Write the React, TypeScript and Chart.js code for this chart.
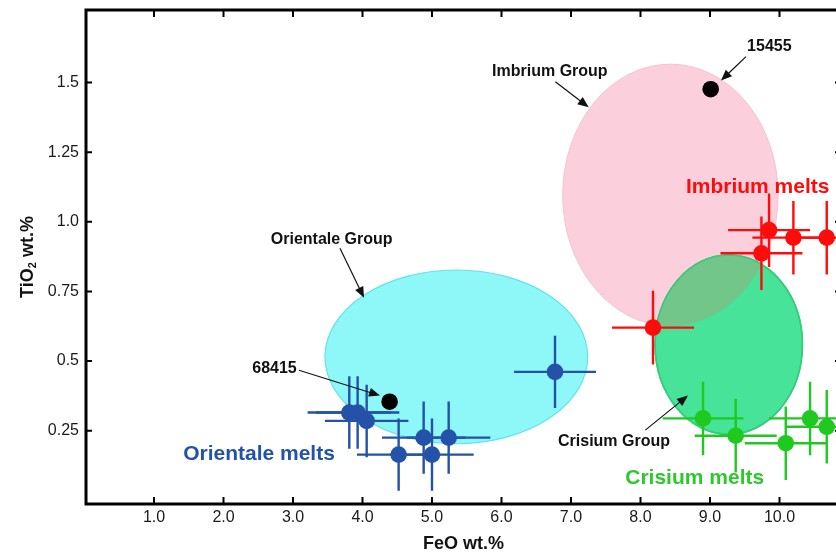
import React, { useEffect, useRef } from "react";
import { Chart, registerables } from "chart.js";

Chart.register(...registerables);

// ---------- data ----------
const xTicks = [1, 2, 3, 4, 5, 6, 7, 8, 9, 10];
const xTickLabels = ["1.0", "2.0", "3.0", "4.0", "5.0", "6.0", "7.0", "8.0", "9.0", "10.0"];
const yTicks = [0.25, 0.5, 0.75, 1.0, 1.25, 1.5];
const yTickLabels = ["0.25", "0.5", "0.75", "1.0", "1.25", "1.5"];

const orientaleFeO = [3.81, 3.93, 4.06, 4.52, 4.88, 5.0, 5.24, 6.77];
const orientaleTiO2 = [0.315, 0.315, 0.285, 0.164, 0.225, 0.164, 0.225, 0.461];
const orientaleFeOErr = [0.6, 0.6, 0.6, 0.6, 0.6, 0.6, 0.6, 0.59];
const orientaleTiO2Err = [0.13, 0.13, 0.13, 0.13, 0.13, 0.13, 0.13, 0.13];

const imbriumFeO = [9.85, 10.2, 9.74, 10.68, 8.18];
const imbriumTiO2 = [0.97, 0.943, 0.887, 0.943, 0.62];
const imbriumFeOErr = [0.59, 0.59, 0.59, 0.59, 0.59];
const imbriumTiO2Err = [0.132, 0.132, 0.132, 0.132, 0.132];

const crisiumFeO = [8.9, 9.37, 10.09, 10.44, 10.68];
const crisiumTiO2 = [0.294, 0.232, 0.205, 0.294, 0.264];
const crisiumFeOErr = [0.58, 0.59, 0.59, 0.59, 0.59];
const crisiumTiO2Err = [0.132, 0.132, 0.132, 0.132, 0.132];

const sampleNames = ["15455", "68415"];
const sampleFeO = [9.01, 4.39];
const sampleTiO2 = [1.476, 0.354];

const groupNames = ["Imbrium Group", "Orientale Group", "Crisium Group"];
const groupFeOCenter = [8.43, 5.35, 9.27];
const groupFeORadius = [1.55, 1.89, 1.06];
const groupTiO2Center = [1.096, 0.515, 0.559];
const groupTiO2Radius = [0.47, 0.312, 0.322];

const meltNames = ["Orientale melts", "Imbrium melts", "Crisium melts"];

// ---------- styles / annotation placement ----------
const FONT = "'Liberation Sans', Arial, Helvetica, sans-serif";
const BLUE = "#2452a8";
const RED = "#ff0b0b";
const GREEN = "#1fc91f";

const ellipseStyles = [
  { fill: "#fbd0dc", stroke: "#f4c2cf", width: 1 },
  { fill: "#8ef7f7", stroke: "#63e2eb", width: 1.2 },
  { fill: "#46e398", stroke: "#36cc7b", width: 1.5 },
];
const overlapFill = "#72c689";

// label anchors & arrow endpoints in data coordinates
const groupLabelPos = [
  { x: 6.696, y: 1.539, ax: 6.775, ay: 1.503, tx: 7.255, ty: 1.411 },
  { x: 3.557, y: 0.937, ax: 3.676, ay: 0.905, tx: 4.022, ty: 0.727 },
  { x: 7.619, y: 0.21, ax: 8.069, ay: 0.252, tx: 8.683, ty: 0.376 },
];
const sampleLabelPos = [
  { x: 9.854, y: 1.629, ax: 9.518, ay: 1.593, tx: 9.158, ty: 1.507 },
  { x: 2.734, y: 0.474, ax: 3.086, ay: 0.467, tx: 4.252, ty: 0.376 },
];
const meltLabelPos = [
  { x: 2.511, y: 0.165, color: BLUE },
  { x: 9.686, y: 1.124, color: RED },
  { x: 8.78, y: 0.079, color: "#2cc92c" },
];

const series = [
  { label: "Orientale melts", xs: orientaleFeO, ys: orientaleTiO2, ex: orientaleFeOErr, ey: orientaleTiO2Err, color: BLUE },
  { label: "Imbrium melts", xs: imbriumFeO, ys: imbriumTiO2, ex: imbriumFeOErr, ey: imbriumTiO2Err, color: RED },
  { label: "Crisium melts", xs: crisiumFeO, ys: crisiumTiO2, ex: crisiumFeOErr, ey: crisiumTiO2Err, color: GREEN },
];

function drawArrow(ctx: CanvasRenderingContext2D, x1: number, y1: number, x2: number, y2: number) {
  const ang = Math.atan2(y2 - y1, x2 - x1);
  const L = 11;
  const W = 4.5;
  const c = Math.cos(ang);
  const s = Math.sin(ang);
  ctx.beginPath();
  ctx.moveTo(x1, y1);
  ctx.lineTo(x2 - c * L * 0.8, y2 - s * L * 0.8);
  ctx.strokeStyle = "#111";
  ctx.lineWidth = 1.2;
  ctx.stroke();
  ctx.beginPath();
  ctx.moveTo(x2, y2);
  ctx.lineTo(x2 - c * L - s * W, y2 - s * L + c * W);
  ctx.lineTo(x2 - c * L + s * W, y2 - s * L - c * W);
  ctx.closePath();
  ctx.fillStyle = "#111";
  ctx.fill();
}

const overlayPlugin = {
  id: "overlay",
  beforeDatasetsDraw(chart: any) {
    const { ctx, chartArea: a, scales } = chart;
    const x = scales.x;
    const y = scales.y;
    ctx.save();
    ctx.beginPath();
    ctx.rect(a.left, a.top, a.right - a.left, a.bottom - a.top);
    ctx.clip();
    const ell = (i: number) => {
      const cx = x.getPixelForValue(groupFeOCenter[i]);
      const cy = y.getPixelForValue(groupTiO2Center[i]);
      const rx = Math.abs(x.getPixelForValue(groupFeOCenter[i] + groupFeORadius[i]) - cx);
      const ry = Math.abs(y.getPixelForValue(groupTiO2Center[i] + groupTiO2Radius[i]) - cy);
      ctx.beginPath();
      ctx.ellipse(cx, cy, rx, ry, 0, 0, Math.PI * 2);
    };
    for (let i = 0; i < groupNames.length; i++) {
      ell(i);
      ctx.fillStyle = ellipseStyles[i].fill;
      ctx.fill();
      ctx.strokeStyle = ellipseStyles[i].stroke;
      ctx.lineWidth = ellipseStyles[i].width;
      ctx.stroke();
    }
    // overlap of Imbrium and Crisium groups
    ctx.save();
    ell(0);
    ctx.clip();
    ell(2);
    ctx.fillStyle = overlapFill;
    ctx.fill();
    ctx.restore();
    ell(2);
    ctx.strokeStyle = ellipseStyles[2].stroke;
    ctx.lineWidth = ellipseStyles[2].width;
    ctx.stroke();

    // error bars
    ctx.lineWidth = 2.4;
    ctx.lineCap = "butt";
    series.forEach((s) => {
      ctx.strokeStyle = s.color;
      for (let i = 0; i < s.xs.length; i++) {
        const px = x.getPixelForValue(s.xs[i]);
        const py = y.getPixelForValue(s.ys[i]);
        const x0 = x.getPixelForValue(s.xs[i] - s.ex[i]);
        const x1 = x.getPixelForValue(s.xs[i] + s.ex[i]);
        const y0 = y.getPixelForValue(s.ys[i] - s.ey[i]);
        const y1 = y.getPixelForValue(s.ys[i] + s.ey[i]);
        ctx.beginPath();
        ctx.moveTo(x0, py);
        ctx.lineTo(x1, py);
        ctx.moveTo(px, y0);
        ctx.lineTo(px, y1);
        ctx.stroke();
      }
    });
    ctx.restore();
  },
  afterDatasetsDraw(chart: any) {
    const { ctx, chartArea: a, scales } = chart;
    const x = scales.x;
    const y = scales.y;
    ctx.save();
    // frame
    ctx.strokeStyle = "#000";
    ctx.lineWidth = 3;
    ctx.strokeRect(a.left, a.top, a.right - a.left, a.bottom - a.top);
    // inward tick marks
    ctx.lineWidth = 2;
    ctx.beginPath();
    xTicks.forEach((v) => {
      const px = x.getPixelForValue(v);
      ctx.moveTo(px, a.bottom);
      ctx.lineTo(px, a.bottom - 7);
      ctx.moveTo(px, a.top);
      ctx.lineTo(px, a.top + 7);
    });
    yTicks.forEach((v) => {
      const py = y.getPixelForValue(v);
      ctx.moveTo(a.left, py);
      ctx.lineTo(a.left + 6, py);
      ctx.moveTo(a.right, py);
      ctx.lineTo(a.right - 6, py);
    });
    ctx.stroke();

    // annotations
    ctx.textAlign = "center";
    ctx.textBaseline = "middle";
    groupNames.forEach((name, i) => {
      const p = groupLabelPos[i];
      ctx.fillStyle = "#111";
      ctx.font = `bold 16px ${FONT}`;
      ctx.fillText(name, x.getPixelForValue(p.x), y.getPixelForValue(p.y));
      drawArrow(ctx, x.getPixelForValue(p.ax), y.getPixelForValue(p.ay), x.getPixelForValue(p.tx), y.getPixelForValue(p.ty));
    });
    sampleNames.forEach((name, i) => {
      const p = sampleLabelPos[i];
      ctx.fillStyle = "#111";
      ctx.font = `bold 16px ${FONT}`;
      ctx.fillText(name, x.getPixelForValue(p.x), y.getPixelForValue(p.y));
      drawArrow(ctx, x.getPixelForValue(p.ax), y.getPixelForValue(p.ay), x.getPixelForValue(p.tx), y.getPixelForValue(p.ty));
    });
    meltNames.forEach((name, i) => {
      const p = meltLabelPos[i];
      ctx.fillStyle = p.color;
      ctx.font = `bold 21px ${FONT}`;
      ctx.fillText(name, x.getPixelForValue(p.x), y.getPixelForValue(p.y));
    });

    // axis titles
    ctx.fillStyle = "#111";
    ctx.font = `bold 18px ${FONT}`;
    ctx.textAlign = "center";
    ctx.textBaseline = "middle";
    ctx.fillText("FeO wt.%", (a.left + a.right) / 2, 544);

    ctx.translate(33, (a.top + a.bottom) / 2);
    ctx.rotate(-Math.PI / 2);
    ctx.textAlign = "left";
    ctx.textBaseline = "alphabetic";
    const big = `bold 18px ${FONT}`;
    const small = `bold 11px ${FONT}`;
    ctx.font = big;
    const w1 = ctx.measureText("TiO").width;
    const w3 = ctx.measureText(" wt.%").width;
    ctx.font = small;
    const w2 = ctx.measureText("2").width;
    const total = w1 + w2 + w3;
    let cx = -total / 2;
    ctx.font = big;
    ctx.fillText("TiO", cx, 0);
    cx += w1;
    ctx.font = small;
    ctx.fillText("2", cx, 3);
    cx += w2;
    ctx.font = big;
    ctx.fillText(" wt.%", cx, 0);
    ctx.restore();
  },
};

export default function App() {
  const ref = useRef<HTMLCanvasElement | null>(null);
  useEffect(() => {
    if (!ref.current) return;
    const datasets: any[] = series.map((s) => ({
      label: s.label,
      data: s.xs.map((v, i) => ({ x: v, y: s.ys[i] })),
      backgroundColor: s.color,
      borderWidth: 0,
      pointRadius: 8.3,
      pointHoverRadius: 8.3,
    }));
    datasets.push({
      label: "Samples",
      data: sampleFeO.map((v, i) => ({ x: v, y: sampleTiO2[i] })),
      backgroundColor: "#000",
      borderWidth: 0,
      pointRadius: 8.3,
      pointHoverRadius: 8.3,
    });
    const chart = new Chart(ref.current, {
      type: "scatter",
      data: { datasets },
      options: {
        animation: false,
        responsive: false,
        devicePixelRatio: 1,
        layout: { padding: { top: 10, right: 5, left: 0, bottom: 0 }, autoPadding: false },
        plugins: { legend: { display: false }, tooltip: { enabled: false } },
        scales: {
          x: {
            type: "linear",
            min: 0.0216,
            max: 10.885,
            afterBuildTicks: (s: any) => {
              s.ticks = xTicks.map((v) => ({ value: v }));
            },
            afterFit: (s: any) => {
              s.height = 52;
              s.paddingLeft = 0;
              s.paddingRight = 0;
            },
            grid: { display: false, drawTicks: false },
            border: { display: false },
            ticks: {
              autoSkip: false,
              maxRotation: 0,
              padding: 4,
              color: "#1a1a1a",
              font: { family: FONT, size: 16 },
              callback: (v: any) => {
                const i = xTicks.indexOf(Number(v));
                return i >= 0 ? xTickLabels[i] : "";
              },
            },
          },
          y: {
            type: "linear",
            min: -0.0133,
            max: 1.7605,
            afterBuildTicks: (s: any) => {
              s.ticks = yTicks.map((v) => ({ value: v }));
            },
            afterFit: (s: any) => {
              s.width = 86;
              s.paddingTop = 0;
              s.paddingBottom = 0;
            },
            grid: { display: false, drawTicks: false },
            border: { display: false },
            ticks: {
              autoSkip: false,
              padding: 7,
              color: "#1a1a1a",
              font: { family: FONT, size: 16 },
              callback: (v: any) => {
                const i = yTicks.indexOf(Number(v));
                return i >= 0 ? yTickLabels[i] : "";
              },
            },
          },
        },
      },
      plugins: [overlayPlugin],
    });
    return () => chart.destroy();
  }, []);
  return (
    <div
      style={{
        position: "fixed",
        left: 0,
        top: 0,
        width: 836,
        height: 556,
        overflow: "hidden",
        background: "#fff",
      }}
    >
      <canvas ref={ref} width={846} height={556} style={{ display: "block", width: 846, height: 556 }} />
    </div>
  );
}
